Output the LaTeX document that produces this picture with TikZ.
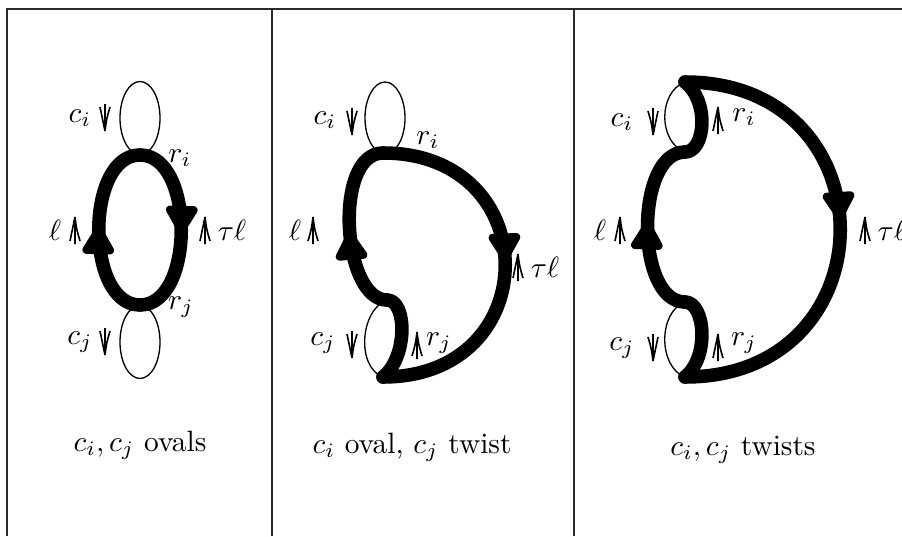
\documentclass[tikz,border=0pt]{standalone}
\usepackage{amsmath,amssymb}
\usepackage{xcolor}
\usepackage{tikz}
\usetikzlibrary{arrows.meta,decorations.markings}
\definecolor{ink}{HTML}{000000}
\definecolor{rule}{HTML}{2A2A2A}
\tikzset{
  frame/.style={draw=rule, line width=.6pt},
  strand/.style={draw=ink, line width=4.6pt, line cap=round, line join=round},
  thin/.style={draw=ink, line width=.45pt},
  midarrow/.style={postaction={decorate}, decoration={markings,
    mark=at position #1 with {\arrow{Triangle[length=11pt,width=12pt,round]}}}},
  lab/.style={inner sep=0pt, font=\normalsize},
  forkline/.style={draw=ink, line width=.55pt},
  upfork/.pic={\draw[forkline] (0,-14)--(0,13)
     (-5,-11) .. controls (-1.5,1) .. (0,13) (5,-11) .. controls (1.5,1) .. (0,13);},
  downfork/.pic={\draw[forkline] (0,14)--(0,-13)
     (-5,11) .. controls (-1.5,-1) .. (0,-13) (5,11) .. controls (1.5,-1) .. (0,-13);}
}
\begin{document}
\begin{tikzpicture}[x=0.34pt,y=0.34pt]
  \useasboundingbox (0,0) rectangle (902,536);
  % frame and dividers
  \draw[frame] (7,0) -- (7,527) -- (902,527);
  \draw[frame] (272,0) -- (272,527);
  \draw[frame] (574,0) -- (574,527);

  % ---- panel 1: both ovals
  \coordinate (ri1) at (140,381);
  \coordinate (rj1) at (140,231);
  \draw[thin] (140,418) ellipse[x radius=20, y radius=36.5];
  \draw[thin] (140,194) ellipse[x radius=20, y radius=36.5];
  \draw[strand,midarrow=0.52] (rj1) .. controls +(-55,0) and +(-55,0) .. (ri1);
  \draw[strand,midarrow=0.52] (ri1) .. controls +(55,0) and +(55,0) .. (rj1);
  \node[lab] (ci1) at (80,418) {$c_i$};
  \pic (fi1) at (105,418) {downfork};
  \node[lab] (ri1l) at (180,378) {$r_i$};
  \node[lab] (l1) at (55,306) {$\ell$};
  \pic (fl1) at (75,306) {upfork};
  \pic (ft1) at (205,306) {upfork};
  \node[lab] (t1) at (232,306) {$\tau\ell$};
  \node[lab] (rj1l) at (181,229) {$r_j$};
  \node[lab] (cj1) at (80,194) {$c_j$};
  \pic (fj1) at (105,194) {downfork};
  \node[lab] (cap1) at (140,91) {$c_i, c_j$ ovals};

  % ---- panel 2: c_i oval, c_j twist
  \coordinate (ri2) at (383,383);
  \coordinate (bj2) at (387,236);
  \coordinate (b2) at (383,159);
  \draw[thin] (385,418) ellipse[x radius=20, y radius=36];
  \draw[thin] (bj2) .. controls +(-27,-10) and +(-27,10) .. (b2);
  \draw[strand,midarrow=0.49] (ri2) .. controls +(163,0) and +(163,0) .. (b2);
  \draw[strand] (b2) .. controls +(25,20) and +(20,0) .. (bj2);
  \draw[strand,midarrow=0.47] (bj2) .. controls +(-45,0) and +(-50,0) .. (ri2);
  \node[lab] (ci2) at (325,416) {$c_i$};
  \pic (fi2) at (352,414) {downfork};
  \node[lab] (ri2l) at (428,396) {$r_i$};
  \node[lab] (l2) at (295,306) {$\ell$};
  \pic (fl2) at (313,306) {upfork};
  \pic (ft2) at (518,269) {upfork};
  \node[lab] (t2) at (545,269) {$\tau\ell$};
  \node[lab] (cj2) at (323,193) {$c_j$};
  \pic (fj2) at (352,191) {downfork};
  \pic (frj2) at (417,191) {upfork};
  \node[lab] (rj2l) at (439,193) {$r_j$};
  \node[lab] (cap2) at (412,89) {$c_i$ oval, $c_j$ twist};

  % ---- panel 3: both twists
  \coordinate (t3) at (685,454);
  \coordinate (bi3) at (685,384);
  \coordinate (bj3) at (685,234);
  \coordinate (b3) at (685,159);
  \draw[thin] (t3) .. controls +(-27,-10) and +(-27,10) .. (bi3);
  \draw[thin] (bj3) .. controls +(-27,-10) and +(-27,10) .. (b3);
  \draw[strand,midarrow=0.48] (t3) .. controls +(207,0) and +(207,0) .. (b3);
  \draw[strand] (b3) .. controls +(25,20) and +(20,0) .. (bj3);
  \draw[strand,midarrow=0.53] (bj3) .. controls +(-50,0) and +(-50,0) .. (bi3);
  \draw[strand] (bi3) .. controls +(20,0) and +(25,-20) .. (t3);
  \node[lab] (ci3) at (622,414) {$c_i$};
  \pic (fi3) at (653,414) {downfork};
  \pic (fri3) at (718,416) {upfork};
  \node[lab] (ri3l) at (744,419) {$r_i$};
  \node[lab] (l3) at (600,306) {$\ell$};
  \pic (fl3) at (620,306) {upfork};
  \pic (ft3) at (865,306) {upfork};
  \node[lab,anchor=west] (t3l) at (877,306) {$\tau\ell$};
  \node[lab] (cj3) at (622,188) {$c_j$};
  \pic (fj3) at (653,188) {downfork};
  \pic (frj3) at (718,189) {upfork};
  \node[lab] (rj3l) at (744,193) {$r_j$};
  \node[lab] (cap3) at (743,86) {$c_i, c_j$ twists};
\end{tikzpicture}
\end{document}
